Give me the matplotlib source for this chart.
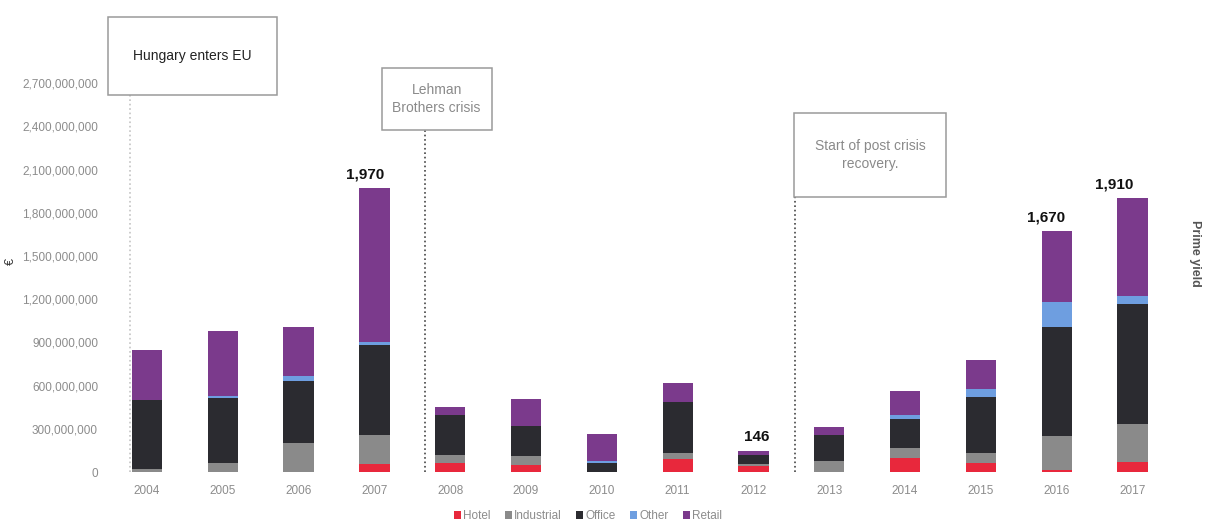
import matplotlib
matplotlib.use("Agg")
import matplotlib.pyplot as plt
from matplotlib.patches import Rectangle, Patch
from matplotlib.ticker import FuncFormatter
import numpy as np

plt.rcParams['font.family'] = ['Liberation Sans', 'DejaVu Sans']

# investment volume by sector, million EUR
years = [2004, 2005, 2006, 2007, 2008, 2009, 2010, 2011, 2012, 2013, 2014, 2015, 2016, 2017]
hotel = [0, 0, 0, 55, 60, 50, 0, 90, 45, 0, 97, 65, 15, 69]
industrial = [20, 65, 205, 200, 55, 58, 0, 45, 10, 74, 69, 69, 232, 266]
office = [480, 450, 427, 625, 278, 215, 65, 350, 60, 185, 203, 387, 759, 829]
other = [0, 10, 35, 25, 0, 0, 12, 0, 0, 0, 28, 53, 174, 56]
retail = [347, 455, 339, 1065, 57, 185, 187, 130, 31, 51, 167, 201, 490, 680]

sectors = ["Hotel", "Industrial", "Office", "Other", "Retail"]
colors = ["#e8283c", "#8a8a8a", "#2b2b30", "#6e9ee0", "#7b3a8c"]

# totals written above selected bars
label_years = [2007, 2012, 2016, 2017]
label_texts = ["1,970", "146", "1,670", "1,910"]
label_dx = [-7, 2, -8, -13]

# events: line x position, box extents, text
event_texts = ["Hungary enters EU", "Lehman\nBrothers crisis", "Start of post crisis\nrecovery."]
event_x = [-0.22, 3.67, 8.55]
event_box = [(-0.514, 1.713, 2618, 3160), (3.096, 4.545, 2375, 2806), (8.538, 10.54, 1910, 2493)]
event_color = ["#222222", "#8a8a8a", "#8a8a8a"]
event_line = ["#c4c4c4", "#444444", "#444444"]

fig = plt.figure(figsize=(12.05, 5.28), dpi=100)
ax = fig.add_axes([0.0871, 0.106, 0.884, 0.873])

x = np.arange(len(years))
series = [hotel, industrial, office, other, retail]
bottom = np.zeros(len(years))
for vals, c, name in zip(series, colors, sectors):
    v = np.array(vals) * 1e6
    ax.bar(x, v, width=0.4, bottom=bottom, color=c, label=name, zorder=3)
    bottom += v

for yr, txt, dx in zip(label_years, label_texts, label_dx):
    i = years.index(yr)
    ax.annotate(txt, (x[i], bottom[i]), xytext=(dx, 5), textcoords="offset points",
                ha="center", va="bottom", fontsize=11, fontweight="bold", color="#111111")

for txt, ex, (x0, x1, y0, y1), tc, lc in zip(event_texts, event_x, event_box, event_color, event_line):
    ax.add_patch(Rectangle((x0, y0 * 1e6), x1 - x0, (y1 - y0) * 1e6, fill=False,
                           edgecolor="#9a9a9a", lw=1.1, clip_on=False, zorder=4))
    ax.text((x0 + x1) / 2, (y0 + y1) / 2 * 1e6, txt, ha="center", va="center",
            fontsize=10, color=tc, linespacing=1.3)
    ax.plot([ex, ex], [0, y0 * 1e6], linestyle=":", color=lc, lw=1.2, zorder=2)

ax.set_xlim(-0.554, 13.496)
ax.set_ylim(0, 3.2e9)
ax.set_yticks(np.arange(0, 2.7e9 + 1, 3e8))
ax.yaxis.set_major_formatter(FuncFormatter(lambda v, p: f"{v:,.0f}"))
ax.set_xticks(x)
ax.set_xticklabels([str(y) for y in years])
ax.tick_params(axis="both", length=0, labelsize=8.5, labelcolor="#8c8c8c")
ax.tick_params(axis="x", pad=9)
ax.tick_params(axis="y", pad=5)
for s in ax.spines.values():
    s.set_visible(False)

fig.text(0.009, 0.505, "€", rotation=90, fontsize=9, color="#333333", ha="center", va="center")
fig.text(0.992, 0.52, "Prime yield", rotation=270, fontsize=9, fontweight="bold",
         color="#555555", ha="center", va="center")

handles = [Patch(facecolor=c, label=n) for c, n in zip(colors, sectors)]
fig.legend(handles=handles, loc="center", bbox_to_anchor=(0.488, 0.022), ncol=5,
           frameon=False, fontsize=8.5, handlelength=0.6, handleheight=0.6,
           handletextpad=0.2, columnspacing=1.2, labelcolor="#8c8c8c")

fig.savefig("out.png", dpi=100, facecolor="white")
